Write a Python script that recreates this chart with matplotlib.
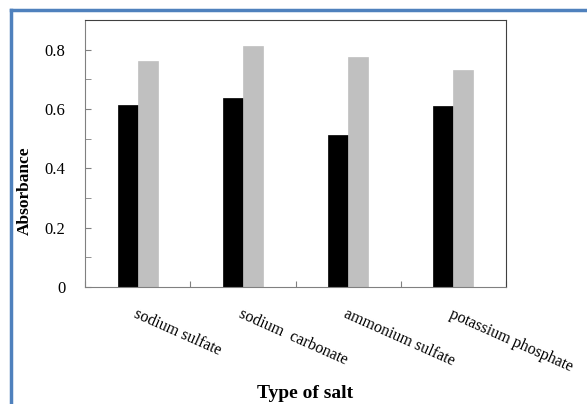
import numpy as np
import matplotlib.pyplot as plt
from matplotlib.lines import Line2D
from matplotlib.ticker import MultipleLocator

salts = ["sodium sulfate", "sodium  carbonate", "ammonium sulfate", "potassium phosphate"]
series_a = [0.615, 0.637, 0.512, 0.609]
series_b = [0.763, 0.812, 0.776, 0.731]

plt.rcParams["font.family"] = "Liberation Serif"

fig = plt.figure(figsize=(5.87, 4.04), dpi=100)
ax = fig.add_axes([85 / 587, 1 - 287 / 404, 421 / 587, 267 / 404])

x = np.arange(len(salts))
w = 0.19
ax.bar(x - w / 2, series_a, w, color="black", edgecolor="black", linewidth=0.5)
ax.bar(x + w / 2, series_b, w, color="#c0c0c0", edgecolor="#c0c0c0", linewidth=0.5)

ax.set_xlim(-0.5, len(salts) - 0.5)
ax.set_ylim(0, 0.9)
ax.yaxis.set_minor_locator(MultipleLocator(0.1))
ax.set_yticks([0, 0.2, 0.4, 0.6, 0.8])
ax.set_yticklabels(["0", "0.2", "0.4", "0.6", "0.8"], fontsize=12)
ax.tick_params(axis="y", which="both", direction="in", length=4, color="#808080", pad=14)

ax.set_xticks(np.arange(len(salts) + 1) - 0.5)
ax.set_xticklabels([])
ax.tick_params(axis="x", direction="in", length=4, color="#808080")
for i, s in enumerate(salts):
    ax.text(i, -0.065, s, rotation=-24, ha="left", va="top", fontsize=11.5,
            rotation_mode="anchor", transform=ax.transData, clip_on=False)

for side in ["left", "bottom"]:
    ax.spines[side].set_color("#808080")
for side in ["top", "right"]:
    ax.spines[side].set_color("#404040")

fig.text(25 / 587, 1 - 191 / 404, "Absorbance", rotation=90, ha="center", va="center",
         fontsize=12.5, fontweight="bold")
fig.text(305 / 587, 1 - 393 / 404, "Type of salt", ha="center", va="center",
         fontsize=14, fontweight="bold")

fig.add_artist(Line2D([11 / 587, 11 / 587], [0, 1 - 10 / 404], color="#4f81bd", lw=2.5))
fig.add_artist(Line2D([11 / 587, 1], [1 - 10 / 404, 1 - 10 / 404], color="#4f81bd", lw=2.5))

fig.savefig("out.png", dpi=100)
